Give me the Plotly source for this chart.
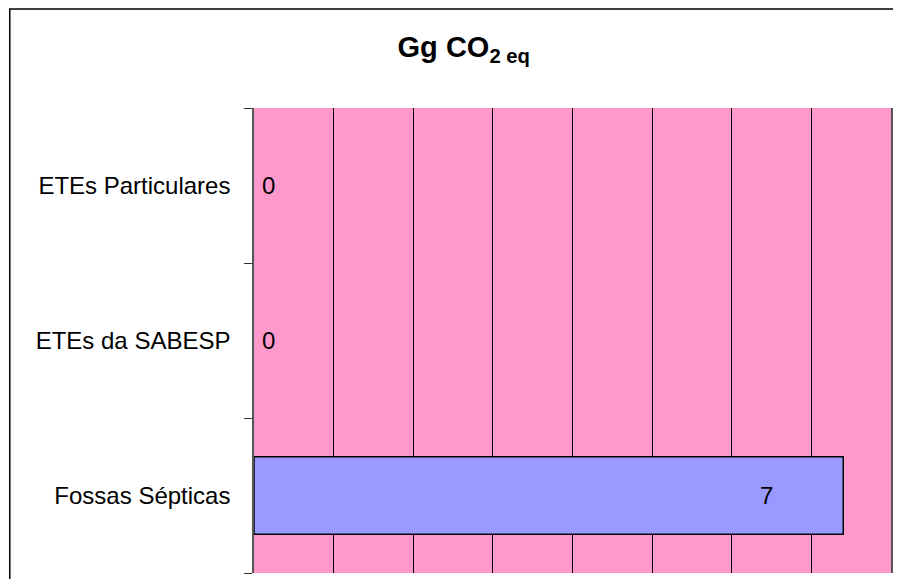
import plotly.graph_objects as go

# Categories listed bottom-to-top (as the axis draws them)
categories = ["Fossas Sépticas", "ETEs da SABESP", "ETEs Particulares"]
values = [7.4, 0.0, 0.0]
value_labels = ["7", "0", "0"]

_FONT = "Liberation Sans, Arial, sans-serif"

fig = go.Figure()
fig.add_trace(go.Bar(
    x=values, y=categories, orientation="h",
    # no outline on empty bars, so they don't thicken the axis line
    marker=dict(color="#9999FF",
                line=dict(color="#000000",
                          width=[1.5 if v > 0 else 0 for v in values])),
    hoverinfo="skip",
))

# Data labels: zero values sit next to the axis, others inside near the end
for cat, val, lab in zip(categories, values, value_labels):
    if val == 0:
        fig.add_annotation(x=val, y=cat, text=lab, showarrow=False,
                           xanchor="left", xshift=6,
                           font=dict(family=_FONT, size=24, color="#000000"))
    else:
        fig.add_annotation(x=val, y=cat, text=lab, showarrow=False,
                           xanchor="right", xshift=-68,
                           font=dict(family=_FONT, size=24, color="#000000"))

# Outer chart frame (extends past the window at right/bottom)
fig.add_shape(type="rect", xref="paper", yref="paper",
              x0=-0.3834, x1=1.2, y0=-0.2, y1=1.2129,
              line=dict(color="#000000", width=1.5), fillcolor="rgba(0,0,0,0)",
              layer="below")

fig.update_layout(
    width=885, height=571,
    margin=dict(l=246, r=0, t=100, b=6),
    paper_bgcolor="#FFFFFF",
    plot_bgcolor="#FF99CC",
    bargap=0.5,
    showlegend=False,
    font=dict(family=_FONT, size=24, color="#000000"),
    title=dict(
        text="<b>Gg CO<sub>2 eq</sub></b>",
        xref="container", x=0.515, xanchor="center",
        yref="container", y=1 - 39 / 571, yanchor="middle",
        font=dict(family=_FONT, size=29, color="#000000"),
    ),
)
fig.update_xaxes(range=[0, 8], dtick=1, showgrid=True, gridcolor="#000000",
                 gridwidth=1, zeroline=False, showticklabels=False,
                 showline=False, ticks="")
fig.update_yaxes(categoryorder="array", categoryarray=categories,
                 tickson="boundaries", ticks="outside", ticklen=8,
                 tickcolor="#333333", showline=True, linecolor="#555555",
                 linewidth=1.5, mirror=True, showgrid=False,
                 ticklabelstandoff=17)

fig.write_html("out.html")
